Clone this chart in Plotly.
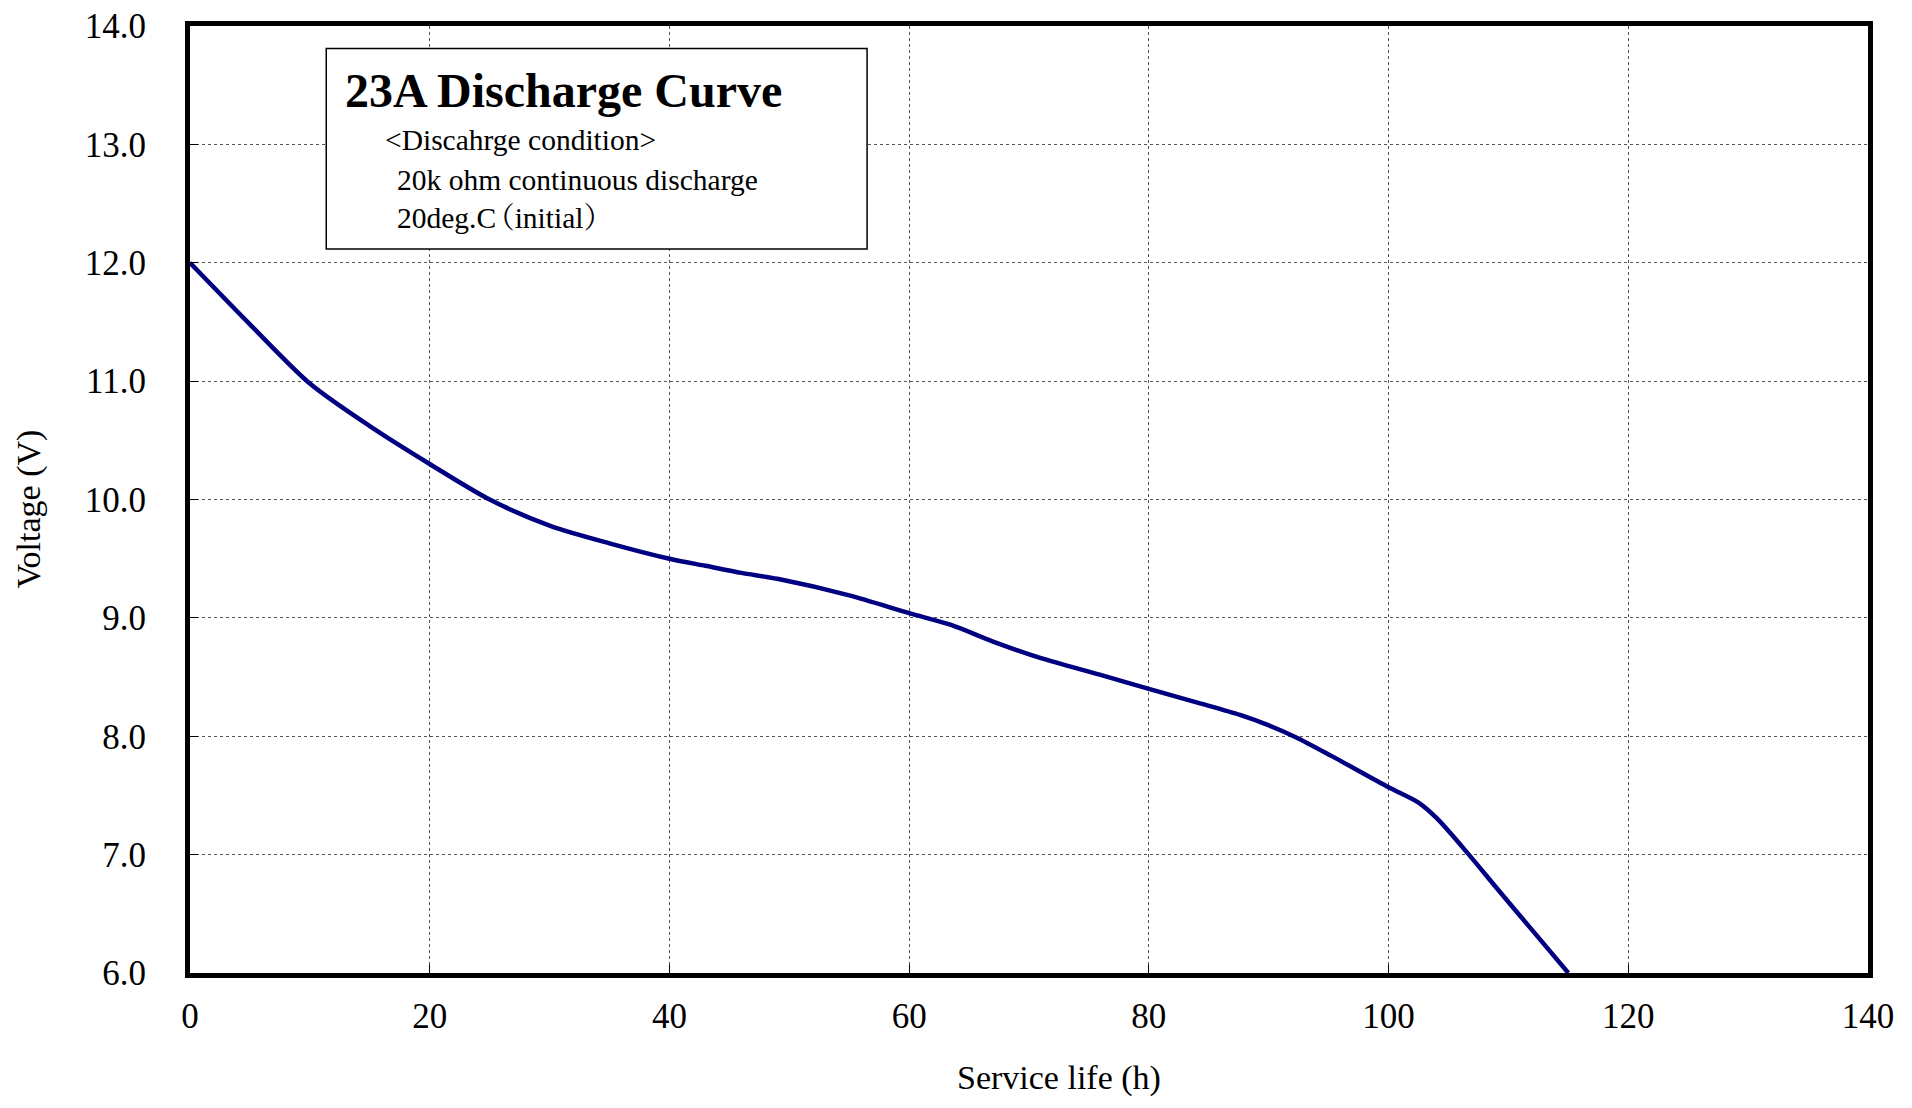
import plotly.graph_objects as go

# Data
service_life_h = [0, 5, 10, 15, 20, 25, 30, 35, 40, 43, 46, 49, 55, 60, 63.5,
                  67, 71, 75.9, 80, 84.2, 87.6, 89.8, 92.3, 95.3, 100, 102.5, 104, 106.7, 109,
                  112, 115]
voltage_v = [12.00, 11.48, 10.98, 10.62, 10.30, 10.00, 9.78, 9.63, 9.50,
             9.44, 9.38, 9.33, 9.19, 9.04, 8.94, 8.80, 8.66, 8.52, 8.40, 8.28, 8.18, 8.10,
             7.99, 7.83, 7.57, 7.44, 7.31, 7.00, 6.72, 6.36, 6.00]

x_ticks = [0, 20, 40, 60, 80, 100, 120, 140]
y_ticks = [6, 7, 8, 9, 10, 11, 12, 13, 14]

title_text = "23A Discharge Curve"
info_lines = ["&lt;Discahrge condition&gt;", "20k ohm continuous discharge",
              '20deg.<span style="letter-spacing:-11px">C</span>（initial）']

FONT = "Liberation Serif, Times New Roman, Noto Serif CJK JP, Noto Sans CJK JP, serif"

fig = go.Figure()
fig.add_trace(go.Scatter(
    x=service_life_h, y=voltage_v, mode="lines",
    line=dict(color="#000080", width=4.5, shape="spline", smoothing=0.8),
    showlegend=False, hoverinfo="x+y",
))

axis_common = dict(
    showline=True, linecolor="black", linewidth=5, mirror=True,
    showgrid=True, gridcolor="#555555", gridwidth=1, griddash="dot",
    ticks="inside", ticklen=8, tickwidth=1, tickcolor="black",
    zeroline=False, ticklabeloverflow="allow", automargin=False,
    tickfont=dict(family=FONT, size=35, color="black"),
)

fig.update_xaxes(range=[0, 140], tickvals=x_ticks, ticktext=[str(v) for v in x_ticks],
                 ticklabelstandoff=8, **axis_common)
fig.update_yaxes(range=[6, 14], tickvals=y_ticks, ticktext=[f"{v:.1f}" for v in y_ticks],
                 ticklabelstandoff=32, **axis_common)

# Info box
fig.add_shape(type="rect", xref="paper", yref="paper",
              x0=0.0812, x1=0.4035, y0=0.7644, y1=0.9763,
              line=dict(color="black", width=1.5), fillcolor="white", layer="above")

fig.add_annotation(xref="paper", yref="paper", x=0.0913, y=0.9323,
                   xanchor="left", yanchor="middle", showarrow=False,
                   text=f"<b>{title_text}</b>",
                   font=dict(family=FONT, size=48, color="black"))
info_pos = [(0.1153, 0.8799), (0.1219, 0.8372), (0.1219, 0.7971)]
for (px, py), line in zip(info_pos, info_lines):
    fig.add_annotation(xref="paper", yref="paper", x=px, y=py,
                       xanchor="left", yanchor="middle", showarrow=False,
                       text=line, font=dict(family=FONT, size=29.5, color="black"))

# Axis titles
fig.add_annotation(xref="paper", yref="paper", x=0.5178, y=0, yshift=-105,
                   xanchor="center", yanchor="middle", showarrow=False,
                   text="Service life (h)", font=dict(family=FONT, size=34, color="black"))
fig.add_annotation(xref="paper", yref="paper", x=-0.0962, y=0.49,
                   xanchor="center", yanchor="middle", showarrow=False, textangle=-90,
                   text="Voltage (V)", font=dict(family=FONT, size=34, color="black"))

fig.update_layout(
    width=1896, height=1092,
    margin=dict(l=182, r=36, t=18, b=127, autoexpand=False),
    paper_bgcolor="white", plot_bgcolor="white",
    font=dict(family=FONT, color="black"),
)

fig.write_html("out.html")
